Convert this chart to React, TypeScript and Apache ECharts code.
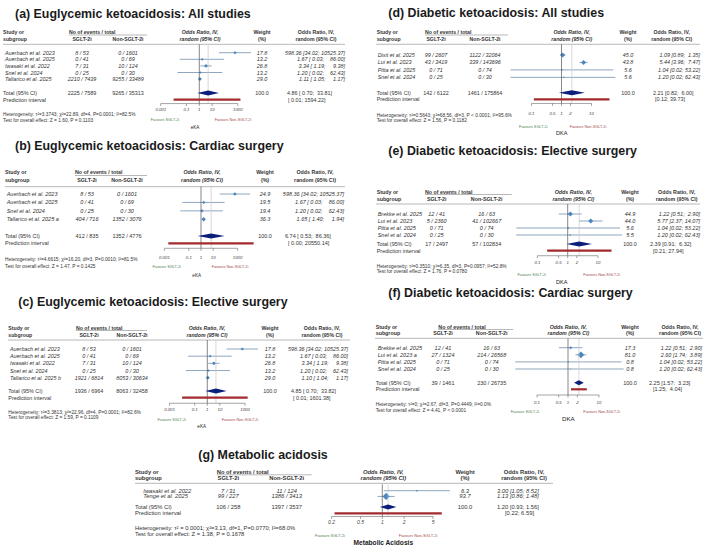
import React, { useEffect, useRef } from "react";
import * as echarts from "echarts";

// ---------------- DATA ----------------
const aStudy = ["Auerbach et al. 2023", "Auerbach et al. 2025", "Iwasaki et al. 2022", "Snel et al. 2024", "Tallarico et al. 2025"];
const aSGLT = [[8, 53], [0, 41], [7, 31], [0, 25], [2210, 7439]];
const aNon = [[0, 1601], [0, 69], [10, 124], [0, 30], [9255, 33489]];
const aWeight = [17.8, 13.2, 26.8, 13.2, 29.0];
const aOR = [[598.36, 34.02, 10525.37], [1.67, 0.03, 86.0], [3.34, 1.19, 9.38], [1.2, 0.02, 62.43], [1.11, 1.05, 1.17]];
const aTotalN = [[2225, 7589], [9265, 35313]];
const aPooled = [4.86, 0.7, 33.81];
const aPred = [0.01, 1594.22];
const aHet = "Heterogeneity: τ²=3.3743; χ²=22.89, df=4, P=0.0001; I²=82.5%";
const aTest = "Test for overall effect: Z = 1.60, P = 0.1103";

const bStudy = ["Auerbach et al. 2023", "Auerbach et al. 2025", "Snel et al. 2024", "Tallarico et al. 2025 a"];
const bSGLT = [[8, 53], [0, 41], [0, 25], [404, 716]];
const bNon = [[0, 1601], [0, 69], [0, 30], [1352, 3076]];
const bWeight = [24.9, 19.5, 19.4, 36.3];
const bOR = [[598.36, 34.02, 10525.37], [1.67, 0.03, 86.0], [1.2, 0.02, 62.43], [1.65, 1.4, 1.94]];
const bTotalN = [[412, 835], [1352, 4776]];
const bPooled = [6.74, 0.53, 86.36];
const bPred = [0.0021, 20550.14];
const bHet = "Heterogeneity: τ²=4.6615; χ²=16.20, df=3, P=0.0010; I²=81.5%";
const bTest = "Test for overall effect: Z = 1.47, P = 0.1425";

const cStudy = ["Auerbach et al. 2023", "Auerbach et al. 2025", "Iwasaki et al. 2022", "Snel et al. 2024", "Tallarico et al. 2025 b"];
const cSGLT = [[8, 53], [0, 41], [7, 31], [0, 25], [1921, 6814]];
const cNon = [[0, 1601], [0, 69], [10, 124], [0, 30], [8053, 30634]];
const cWeight = [17.8, 13.2, 26.8, 13.2, 29.0];
const cOR = [[598.36, 34.02, 10525.37], [1.67, 0.03, 86.0], [3.34, 1.19, 9.38], [1.2, 0.02, 62.43], [1.1, 1.04, 1.17]];
const cTotalN = [[1936, 6964], [8063, 32458]];
const cPooled = [4.85, 0.7, 33.82];
const cPred = [0.01, 1601.38];
const cHet = "Heterogeneity: τ²=3.3813; χ²=22.96, df=4, P=0.0001; I²=82.6%";
const cTest = "Test for overall effect: Z = 1.59, P = 0.1109";

const dStudy = ["Dixit et al. 2025", "Lui et al. 2023", "Pitta et al. 2025", "Snel et al. 2024"];
const dSGLT = [[99, 2607], [43, 3419], [0, 71], [0, 25]];
const dNon = [[1122, 32064], [339, 143696], [0, 74], [0, 30]];
const dWeight = [45.0, 43.8, 5.6, 5.6];
const dOR = [[1.09, 0.89, 1.35], [5.44, 3.96, 7.47], [1.04, 0.02, 53.22], [1.2, 0.02, 62.43]];
const dTotalN = [[142, 6122], [1461, 175864]];
const dPooled = [2.21, 0.82, 6.0];
const dPred = [0.12, 39.73];
const dHet = "Heterogeneity: τ²=0.5643; χ²=68.56, df=3, P < 0.0001; I²=95.6%";
const dTest = "Test for overall effect: Z = 1.56, P = 0.1182";

const eStudy = ["Brekke et al. 2025", "Lui et al. 2023", "Pitta et al. 2025", "Snel et al. 2024"];
const eSGLT = [[12, 41], [5, 2360], [0, 71], [0, 25]];
const eNon = [[16, 63], [41, 102667], [0, 74], [0, 30]];
const eWeight = [44.9, 44.0, 5.6, 5.5];
const eOR = [[1.22, 0.51, 2.9], [5.77, 2.37, 14.07], [1.04, 0.02, 53.22], [1.2, 0.02, 62.43]];
const eTotalN = [[17, 2497], [57, 102834]];
const ePooled = [2.39, 0.91, 6.32];
const ePred = [0.21, 27.94];
const eHet = "Heterogeneity: τ²=0.3510; χ²=6.35, df=3, P=0.0957; I²=52.8%";
const eTest = "Test for overall effect: Z = 1.76, P = 0.0780";

const fStudy = ["Brekke et al. 2025", "Lui et al. 2023 a", "Pitta et al. 2025", "Snel et al. 2024"];
const fSGLT = [[12, 41], [27, 1324], [0, 71], [0, 25]];
const fNon = [[16, 63], [214, 26568], [0, 74], [0, 30]];
const fWeight = [17.3, 81.0, 0.8, 0.8];
const fOR = [[1.22, 0.51, 2.9], [2.6, 1.74, 3.89], [1.04, 0.02, 53.22], [1.2, 0.02, 62.43]];
const fTotalN = [[39, 1461], [230, 26735]];
const fPooled = [2.25, 1.57, 3.23];
const fPred = [1.25, 4.04];
const fHet = "Heterogeneity: τ²=0; χ²=2.67, df=3, P=0.4449; I²=0.0%";
const fTest = "Test for overall effect: Z = 4.41, P < 0.0001";

const gStudy = ["Iwasaki et al. 2022", "Tenge et al. 2025"];
const gSGLT = [[7, 31], [99, 227]];
const gNon = [[11, 124], [1386, 3413]];
const gWeight = [6.3, 93.7];
const gOR = [[3.0, 1.05, 8.52], [1.13, 0.86, 1.48]];
const gTotalN = [[106, 258], [1397, 3537]];
const gPooled = [1.2, 0.93, 1.56];
const gPred = [0.22, 6.59];
const gHet = "Heterogeneity: τ² = 0.0001; χ²=3.13, df=1, P=0.0770; I²=68.0%";
const gTest = "Test for overall effect: Z = 1.38, P = 0.1678";

const eKATicks = [0.001, 0.1, 1, 10, 1000];
const dkaTicks = [0.1, 0.5, 1, 2, 10];
const maTicks = [0.2, 0.5, 1, 2, 5];

const titles = [
  "(a) Euglycemic ketoacidosis: All studies",
  "(b) Euglycemic ketoacidosis: Cardiac surgery",
  "(c) Euglycemic ketoacidosis: Elective surgery",
  "(d) Diabetic ketoacidosis: All studies",
  "(e) Diabetic ketoacidosis: Elective surgery",
  "(f) Diabetic ketoacidosis: Cardiac surgery",
  "(g) Metabolic acidosis",
];

// ---------------- STYLE / LAYOUT ----------------
const FONT = '"Liberation Sans", Arial, Helvetica, sans-serif';
const TXT = "#333";
const CI_COL = "#5f7fa3";
const MARK_COL = "#4a86c0";
const DIAM_COL = "#0b1f7a";
const PRED_COL = "#a32a2e";

const layouts: any[] = [
  { tx: 15, ty: 14, x1: 199.3, ppd: 12.85, xMin: 0.001, xMax: 1000, y0: 52.7, pitch: 6.6, totalS: 6.1, predS: 7.12, axisS: 7.71, hdrS: -1.27,
    hy1: 31.7, hy2: 39, hLine: [3, 345], nameX: 5, hdrX: 3, evX: 69, evX2: 147, evY: 35, c1: 82, c2: 128, midC: 200, wC: 262, orC: 316,
    orX: 345, orAlign: "right", totX: 287, predX: 288, fs: 5.4, hfs: 5.2, hetX: 3, hetY: 114, testY: 120, hetFs: 4.8,
    favL: 165, favR: 233, favY: 120, favFs: 3.8, axTitle: "eKA", atX: 195, atY: 127.3, atFs: 4.6, atBold: false, tickOff: 6.4, tickFs: 4.3, loW: 5, hiW: 8, tHiW: 6 },
  { tx: 15, ty: 145.5, x1: 201, ppd: 12.2, xMin: 0.001, xMax: 1000, y0: 194, pitch: 8.43, totalS: 4.98, predS: 5.85, axisS: 6.44, hdrS: -0.87,
    hy1: 172.3, hy2: 180.3, hLine: [5, 345], nameX: 6.7, hdrX: 5, evX: 75, evX2: 147, evY: 175.5, c1: 87, c2: 127, midC: 202, wC: 265, orC: 315,
    orX: 344, orAlign: "right", totX: 285, predX: 288, fs: 5.5, hfs: 5.3, hetX: 5, hetY: 259.3, testY: 266.7, hetFs: 4.8,
    favL: 166.7, favR: 230, favY: 266.7, favFs: 3.8, axTitle: "eKA", atX: 196.7, atY: 275.7, atFs: 4.6, atBold: false, tickOff: 9, tickFs: 4.3, loW: 5, hiW: 8, tHiW: 6 },
  { tx: 18.3, ty: 302.3, x1: 207.3, ppd: 12.6, xMin: 0.001, xMax: 1000, y0: 349, pitch: 7.18, totalS: 5.85, predS: 6.78, axisS: 7.56, hdrS: -1.25,
    hy1: 327.7, hy2: 335, hLine: [8, 350], nameX: 10, hdrX: 8.3, evX: 76, evX2: 147, evY: 330.5, c1: 89, c2: 132, midC: 207, wC: 270, orC: 322,
    orX: 348, orAlign: "right", totX: 291, predX: 293, fs: 5.4, hfs: 5.2, hetX: 8.3, hetY: 412.7, testY: 417.7, hetFs: 4.8,
    favL: 171.7, favR: 240, favY: 420, favFs: 3.8, axTitle: "eKA", atX: 201.7, atY: 426.7, atFs: 4.6, atBold: false, tickOff: 6, tickFs: 4.3, loW: 5, hiW: 8, tHiW: 6 },
  { tx: 388.3, ty: 13.3, x1: 561.5, ppd: 30, xMin: 0.1, xMax: 10, y0: 55, pitch: 7.45, totalS: 5.06, predS: 5.95, axisS: 6.5, hdrS: -1.44,
    hy1: 32.3, hy2: 39, hLine: [376, 700], nameX: 377.7, hdrX: 376.7, evX: 425, evX2: 508, evY: 35, c1: 436, c2: 485, midC: 571.7, wC: 628, orC: 671.7,
    orX: 700, orAlign: "right", totX: 653, predX: 655, fs: 5.4, hfs: 5.2, hetX: 376.7, hetY: 115, testY: 120.7, hetFs: 4.8,
    favL: 533.3, favR: 588, favY: 126.7, favFs: 3.8, axTitle: "DKA", atX: 561.7, atY: 133, atFs: 5.6, atBold: false, tickOff: 10, tickFs: 4.3, loW: 4, hiW: 5, tHiW: 5 },
  { tx: 388.3, ty: 150.7, x1: 567.7, ppd: 30.3, xMin: 0.1, xMax: 10, y0: 214, pitch: 7, totalS: 4.29, predS: 5.24, axisS: 5.96, hdrS: -1.43,
    hy1: 192.3, hy2: 199, hLine: [376, 700], nameX: 377.7, hdrX: 376.7, evX: 425, evX2: 511.7, evY: 194.5, c1: 436.7, c2: 486.7, midC: 573.3, wC: 630, orC: 676.7,
    orX: 700, orAlign: "right", totX: 650, predX: 653, fs: 5.5, hfs: 5.3, hetX: 376.7, hetY: 266, testY: 271.7, hetFs: 4.8,
    favL: 531.7, favR: 601.7, favY: 275, favFs: 3.8, axTitle: "DKA", atX: 561.7, atY: 281.7, atFs: 5.6, atBold: false, tickOff: 7, tickFs: 4.3, loW: 4, hiW: 5, tHiW: 5 },
  { tx: 388.3, ty: 293.3, x1: 568, ppd: 31, xMin: 0.1, xMax: 10, y0: 347.7, pitch: 7.1, totalS: 4.93, predS: 5.86, axisS: 6.66, hdrS: -1.32,
    hy1: 326.7, hy2: 333.3, hLine: [375, 703], nameX: 377.7, hdrX: 375.7, evX: 438.3, evX2: 513.3, evY: 329.5, c1: 443, c2: 491.7, midC: 568.3, wC: 630, orC: 680,
    orX: 702, orAlign: "right", totX: 649, predX: 653, fs: 5.5, hfs: 5.3, hetX: 375.7, hetY: 404.3, testY: 410.7, hetFs: 4.8,
    favL: 525, favR: 601.7, favY: 411.7, favFs: 3.8, axTitle: "DKA", atX: 568.3, atY: 418.3, atFs: 6.2, atBold: false, tickOff: 7.3, tickFs: 4.3, loW: 4, hiW: 5, tHiW: 5 },
  { tx: 198.3, ty: 455, x1: 382.3, ppd: 72.6, xMin: 0.2, xMax: 5, y0: 490.7, pitch: 6.6, totalS: 2.85, predS: 3.97, axisS: 4.5, hdrS: -1.12,
    hy1: 472.3, hy2: 478.3, hLine: [135, 553], nameX: 143.3, hdrX: 135, evX: 216.7, evX2: 311.7, evY: 474.8, c1: 228.3, c2: 286.7, midC: 383.3, wC: 465, orC: 524,
    orX: 497, orAlign: "left", totX: 497, predX: 505, fs: 5.8, hfs: 5.8, hetX: 135, hetY: 528.3, testY: 534, hetFs: 5.8,
    favL: 330, favR: 418, favY: 535.6, favFs: 4, axTitle: "Metabolic Acidosis", atX: 383.3, atY: 542.2, atFs: 6.6, atBold: true, tickOff: 6, tickFs: 5, loW: 4, hiW: 4, tHiW: 4 },
];

const panels = [
  { study: aStudy, sglt: aSGLT, non: aNon, weight: aWeight, or: aOR, totalN: aTotalN, pooled: aPooled, pred: aPred, het: aHet, test: aTest, ticks: eKATicks },
  { study: bStudy, sglt: bSGLT, non: bNon, weight: bWeight, or: bOR, totalN: bTotalN, pooled: bPooled, pred: bPred, het: bHet, test: bTest, ticks: eKATicks },
  { study: cStudy, sglt: cSGLT, non: cNon, weight: cWeight, or: cOR, totalN: cTotalN, pooled: cPooled, pred: cPred, het: cHet, test: cTest, ticks: eKATicks },
  { study: dStudy, sglt: dSGLT, non: dNon, weight: dWeight, or: dOR, totalN: dTotalN, pooled: dPooled, pred: dPred, het: dHet, test: dTest, ticks: dkaTicks },
  { study: eStudy, sglt: eSGLT, non: eNon, weight: eWeight, or: eOR, totalN: eTotalN, pooled: ePooled, pred: ePred, het: eHet, test: eTest, ticks: dkaTicks },
  { study: fStudy, sglt: fSGLT, non: fNon, weight: fWeight, or: fOR, totalN: fTotalN, pooled: fPooled, pred: fPred, het: fHet, test: fTest, ticks: dkaTicks },
  { study: gStudy, sglt: gSGLT, non: gNon, weight: gWeight, or: gOR, totalN: gTotalN, pooled: gPooled, pred: gPred, het: gHet, test: gTest, ticks: maTicks },
];

// ---------------- HELPERS ----------------
const f2 = (v: number) => v.toFixed(2);
const pad = (s: string, w: number) => s.padStart(w, " ");
const orStr = (e: number, lo: number, hi: number, lw: number, hw: number) => `${f2(e)} [${pad(f2(lo), lw)}; ${pad(f2(hi), hw)}]`;
const cnt = (p: number[]) => `${p[0]} / ${p[1]}`;

function txt(text: string, x: number, y: number, o: any = {}) {
  const al = o.al || "left";
  return {
    type: "text",
    x,
    y,
    silent: true,
    style: {
      text,
      fill: o.fill || TXT,
      fontSize: o.fs || 5.3,
      fontFamily: FONT,
      fontStyle: o.it ? "italic" : "normal",
      fontWeight: o.b ? "bold" : "normal",
      align: al,
      textAlign: al,
      verticalAlign: "middle",
      textVerticalAlign: "middle",
    },
  };
}
function ln(x1: number, y1: number, x2: number, y2: number, stroke: string, lw: number) {
  return { type: "line", silent: true, shape: { x1, y1, x2, y2 }, style: { stroke, lineWidth: lw } };
}

function studyRender(P: any, L: any) {
  return (params: any, api: any) => {
    const i = params.dataIndex;
    const est = api.value(0);
    const row = api.value(1);
    const lo = api.value(2);
    const hi = api.value(3);
    const w = api.value(4);
    const pE = api.coord([est, row]);
    const pL = api.coord([lo, row]);
    const pH = api.coord([hi, row]);
    const y = pE[1];
    const hs = Math.max(0.6, 0.375 * Math.sqrt(w));
    const o = P.or[i];
    return {
      type: "group",
      children: [
        ln(pL[0], y, pH[0], y, CI_COL, 0.7),
        { type: "polygon", silent: true, shape: { points: [[pE[0] - hs, y], [pE[0], y - hs], [pE[0] + hs, y], [pE[0], y + hs]] }, style: { fill: MARK_COL } },
        txt(P.study[i], L.nameX, y, { fs: L.fs, it: true }),
        txt(cnt(P.sglt[i]), L.c1, y, { fs: L.fs, it: true, al: "center" }),
        txt(cnt(P.non[i]), L.c2, y, { fs: L.fs, it: true, al: "center" }),
        txt(P.weight[i].toFixed(1), L.wC, y, { fs: L.fs, it: true, al: "center" }),
        txt(orStr(o[0], o[1], o[2], L.loW, L.hiW), L.orX, y, { fs: L.fs, it: true, al: L.orAlign }),
      ],
    };
  };
}

function summaryRender(P: any, L: any) {
  return (params: any, api: any) => {
    const est = api.value(0);
    const tRow = api.value(1);
    const lo = api.value(2);
    const hi = api.value(3);
    const pLo = api.value(4);
    const pHi = api.value(5);
    const pRow = api.value(6);
    const aRow = api.value(7);
    const top1 = api.coord([1, L.hdrS]);
    const bot1 = api.coord([1, aRow]);
    const topE = api.coord([est, L.hdrS]);
    const botE = api.coord([est, aRow]);
    const dE = api.coord([est, tRow]);
    const dL = api.coord([lo, tRow]);
    const dH = api.coord([hi, tRow]);
    const pl = api.coord([pLo, pRow]);
    const ph = api.coord([pHi, pRow]);
    const ax0 = api.coord([L.xMin, aRow]);
    const ax1 = api.coord([L.xMax, aRow]);
    const ty = dE[1];
    const py = pl[1];
    const h = 2.5;
    return {
      type: "group",
      children: [
        ln(topE[0], topE[1], botE[0], botE[1], "#c8c8c8", 0.7),
        ln(top1[0], top1[1], bot1[0], bot1[1], "#555", 0.7),
        { type: "polygon", silent: true, shape: { points: [[dL[0], ty], [dE[0], ty - h], [dH[0], ty], [dE[0], ty + h]] }, style: { fill: DIAM_COL } },
        { type: "rect", silent: true, shape: { x: pl[0], y: py - 1.1, width: ph[0] - pl[0], height: 2.2 }, style: { fill: PRED_COL } },
        ln(ax0[0], ax0[1], ax1[0], ax1[1], "#666", 0.6),
        txt("Total (95% CI)", L.hdrX, ty, { fs: L.fs }),
        txt(cnt(P.totalN[0]), L.c1, ty, { fs: L.fs, al: "center" }),
        txt(cnt(P.totalN[1]), L.c2, ty, { fs: L.fs, al: "center" }),
        txt("100.0", L.wC, ty, { fs: L.fs, al: "center" }),
        txt(orStr(est, lo, hi, L.loW, L.tHiW), L.totX, ty, { fs: L.fs }),
        txt("Prediction interval", L.hdrX, py, { fs: L.fs }),
        txt(`[${pad(f2(pLo), L.loW)}; ${pad(f2(pHi), L.tHiW)}]`, L.predX, py, { fs: L.fs }),
      ],
    };
  };
}

function tickRender(L: any) {
  return (params: any, api: any) => {
    const v = api.value(0);
    const p = api.coord([v, api.value(1)]);
    return {
      type: "group",
      children: [
        ln(p[0], p[1], p[0], p[1] + 2.5, "#666", 0.6),
        txt(String(v), p[0], p[1] + L.tickOff, { fs: L.tickFs, it: true, al: "center", fill: "#444" }),
      ],
    };
  };
}

function staticGraphics(P: any, L: any, title: string) {
  const hb = { fs: L.hfs, b: true };
  const hLineY = L.y0 + L.hdrS * L.pitch;
  return [
    txt(title, L.tx, L.ty, { fs: 12.4, b: true, fill: "#1a1a1a" }),
    txt("Study or", L.hdrX, L.hy1, hb),
    txt("subgroup", L.hdrX, L.hy2, hb),
    txt("No of events / total", L.evX, L.hy1, hb),
    ln(L.evX, L.evY, L.evX2, L.evY, "#999", 0.7),
    txt("SGLT-2i", L.c1, L.hy2, { ...hb, al: "center" }),
    txt("Non-SGLT-2i", L.c2, L.hy2, { ...hb, al: "center" }),
    txt("Odds Ratio, IV,", L.midC, L.hy1, { ...hb, it: true, al: "center" }),
    txt("random (95% CI)", L.midC, L.hy2, { ...hb, it: true, al: "center" }),
    txt("Weight", L.wC, L.hy1, { ...hb, al: "center" }),
    txt("(%)", L.wC, L.hy2, { ...hb, al: "center" }),
    txt("Odds Ratio, IV,", L.orC, L.hy1, { ...hb, al: "center" }),
    txt("random (95% CI)", L.orC, L.hy2, { ...hb, al: "center" }),
    ln(L.hLine[0], hLineY, L.hLine[1], hLineY, "#999", 0.7),
    txt(P.het, L.hetX, L.hetY, { fs: L.hetFs }),
    txt(P.test, L.hetX, L.testY, { fs: L.hetFs }),
    txt("Favours SGLT-2i", L.favL, L.favY, { fs: L.favFs, al: "center", fill: "#4d7f4d" }),
    txt("Favours Non-SGLT-2i", L.favR, L.favY, { fs: L.favFs, al: "center", fill: "#a34a4a" }),
    txt(L.axTitle, L.atX, L.atY, { fs: L.atFs, al: "center", b: L.atBold, fill: "#222" }),
  ];
}

function buildOption() {
  const grid: any[] = [];
  const xAxis: any[] = [];
  const yAxis: any[] = [];
  const series: any[] = [];
  let graphic: any[] = [];
  panels.forEach((P, i) => {
    const L = layouts[i];
    const left = L.x1 + Math.log10(L.xMin) * L.ppd;
    const width = L.ppd * (Math.log10(L.xMax) - Math.log10(L.xMin));
    grid.push({ left, top: L.y0, width, height: L.pitch * 10, show: false });
    xAxis.push({ type: "log", logBase: 10, min: L.xMin, max: L.xMax, gridIndex: i, show: false });
    yAxis.push({ type: "value", min: 0, max: 10, inverse: true, gridIndex: i, show: false });
    series.push({
      type: "custom",
      name: `studies-${i}`,
      xAxisIndex: i,
      yAxisIndex: i,
      silent: true,
      clip: false,
      renderItem: studyRender(P, L),
      encode: { x: 0, y: 1 },
      data: P.or.map((o: number[], k: number) => [o[0], k, o[1], o[2], P.weight[k]]),
    });
    series.push({
      type: "custom",
      name: `summary-${i}`,
      xAxisIndex: i,
      yAxisIndex: i,
      silent: true,
      clip: false,
      renderItem: summaryRender(P, L),
      encode: { x: 0, y: 1 },
      data: [[P.pooled[0], L.totalS, P.pooled[1], P.pooled[2], P.pred[0], P.pred[1], L.predS, L.axisS]],
    });
    series.push({
      type: "custom",
      name: `ticks-${i}`,
      xAxisIndex: i,
      yAxisIndex: i,
      silent: true,
      clip: false,
      renderItem: tickRender(L),
      encode: { x: 0, y: 1 },
      data: P.ticks.map((t: number) => [t, L.axisS]),
    });
    graphic = graphic.concat(staticGraphics(P, L, titles[i]));
  });
  return { animation: false, backgroundColor: "#fff", grid, xAxis, yAxis, series, graphic };
}

export default function App() {
  const ref = useRef<HTMLDivElement>(null);
  useEffect(() => {
    const chart = echarts.init(ref.current as HTMLDivElement, null, { renderer: "svg" });
    chart.setOption(buildOption() as any);
    return () => chart.dispose();
  }, []);
  return <div ref={ref} style={{ position: "fixed", left: 0, top: 0, width: 709, height: 548, background: "#fff" }} />;
}
